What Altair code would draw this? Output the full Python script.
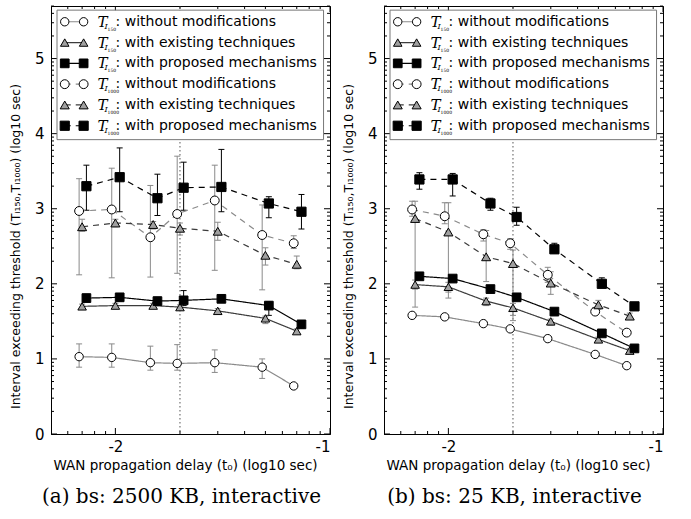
import altair as alt
import numpy as np
import pandas as pd

# ---------------- data (log10 seconds) ----------------
# x positions by marker type (slightly offset per marker in the original)
X_CIRCLE = [-2.169, -2.017, -1.837, -1.712, -1.537, -1.316, -1.169]
X_TRIANGLE = [-2.155, -2.000, -1.824, -1.699, -1.523, -1.301, -1.155]
X_SQUARE = [-2.135, -1.980, -1.804, -1.682, -1.506, -1.285, -1.133]
DOTTED_X = -1.699

# panel (a) bs: 2500 KB
A_C150 = [1.03, 1.02, 0.95, 0.94, 0.95, 0.89, 0.64]
A_C150_LO = [0.89, 0.89, 0.85, 0.85, 0.82, 0.74, 0.64]
A_C150_HI = [1.20, 1.20, 1.17, 1.19, 1.12, 1.00, 0.64]
A_T150 = [1.70, 1.71, 1.71, 1.69, 1.64, 1.54, 1.37]
A_T150_LO = [1.67, 1.68, 1.68, 1.66, 1.61, 1.47, 1.34]
A_T150_HI = [1.73, 1.74, 1.74, 1.72, 1.67, 1.57, 1.40]
A_S150 = [1.81, 1.82, 1.77, 1.78, 1.80, 1.71, 1.46]
A_S150_LO = [1.77, 1.77, 1.73, 1.71, 1.76, 1.58, 1.41]
A_S150_HI = [1.86, 1.87, 1.82, 1.91, 1.85, 1.76, 1.50]
A_C1000 = [2.97, 2.99, 2.62, 2.93, 3.11, 2.65, 2.54]
A_C1000_LO = [2.12, 2.08, 2.09, 2.14, 2.18, 1.92, 2.47]
A_C1000_HI = [3.40, 3.54, 3.31, 3.70, 3.58, 3.05, 2.64]
A_T1000 = [2.76, 2.81, 2.79, 2.74, 2.70, 2.38, 2.26]
A_T1000_LO = [2.70, 2.76, 2.73, 2.65, 2.58, 2.25, 2.20]
A_T1000_HI = [2.86, 2.86, 2.83, 2.81, 2.82, 2.48, 2.37]
A_S1000 = [3.30, 3.42, 3.14, 3.28, 3.29, 3.07, 2.96]
A_S1000_LO = [2.98, 2.96, 2.91, 2.98, 2.96, 2.88, 2.73]
A_S1000_HI = [3.58, 3.81, 3.46, 3.62, 3.79, 3.16, 3.19]

# panel (b) bs: 25 KB
B_C150 = [1.58, 1.56, 1.47, 1.40, 1.27, 1.06, 0.91]
B_C150_LO = B_C150
B_C150_HI = B_C150
B_T150 = [1.99, 1.96, 1.77, 1.68, 1.50, 1.26, 1.11]
B_T150_LO = [1.93, 1.89, 1.71, 1.58, 1.45, 1.23, 1.08]
B_T150_HI = [2.05, 2.02, 1.81, 1.74, 1.53, 1.29, 1.14]
B_S150 = [2.10, 2.07, 1.93, 1.82, 1.63, 1.34, 1.14]
B_S150_LO = [2.07, 2.04, 1.90, 1.79, 1.60, 1.31, 1.11]
B_S150_HI = [2.13, 2.10, 1.96, 1.85, 1.66, 1.37, 1.17]
B_C1000 = [2.99, 2.90, 2.66, 2.54, 2.12, 1.63, 1.35]
B_C1000_LO = [2.90, 2.80, 2.57, 2.46, 2.02, 1.60, 1.33]
B_C1000_HI = [3.10, 3.08, 2.72, 2.60, 2.22, 1.68, 1.38]
B_T1000 = [2.87, 2.69, 2.36, 2.27, 2.01, 1.72, 1.57]
B_T1000_LO = [1.69, 1.81, 2.03, 1.51, 1.86, 1.66, 1.53]
B_T1000_HI = [3.10, 3.08, 2.71, 2.45, 2.16, 1.78, 1.61]
B_S1000 = [3.39, 3.39, 3.07, 2.89, 2.46, 2.00, 1.70]
B_S1000_LO = [3.26, 3.17, 2.98, 2.78, 2.41, 1.95, 1.66]
B_S1000_HI = [3.48, 3.47, 3.14, 3.02, 2.54, 2.08, 1.74]

SERIES = ["c150", "t150", "s150", "c1000", "t1000", "s1000"]
SUBS = ["150", "150", "150", "1000", "1000", "1000"]
LABELS = [": without modifications", ": with existing techniques",
          ": with proposed mechanisms"] * 2
LINE_COLORS = ["#8a8a8a", "#3c3c3c", "#000000", "#8a8a8a", "#3c3c3c", "#000000"]
DASHES = [[1, 0], [1, 0], [1, 0], [6, 5], [6, 5], [6, 5]]
WIDTHS = [1.2, 1.2, 1.6, 1.4, 1.4, 1.7]
SHAPES = ["circle", "triangle-up", "square"] * 2
FILLS = ["#ffffff", "#a0a0a0", "#000000"] * 2
SIZES = [70, 85, 70] * 2
ERR_COLORS = ["#8a8a8a", "#8a8a8a", "#000000"] * 2

CAPTIONS = ["(a) bs: 2500 KB, interactive", "(b) bs: 25 KB, interactive"]
Y_TITLE = "Interval exceeding threshold (Tᵢ₁₅₀,Tᵢ₁₀₀₀) (log10 sec)"
X_TITLE = "WAN propagation delay (t₀) (log10 sec)"

X_BY_SERIES = [X_CIRCLE, X_TRIANGLE, X_SQUARE] * 2


def make_df(vals):
    rows = []
    for s, xs, (y, lo, hi) in zip(SERIES, X_BY_SERIES, vals):
        for xi, yi, l, h in zip(xs, y, lo, hi):
            rows.append(dict(series=s, x=xi, y=yi, lo=l, hi=h))
    return pd.DataFrame(rows)


DF_A = make_df([(A_C150, A_C150_LO, A_C150_HI), (A_T150, A_T150_LO, A_T150_HI),
                (A_S150, A_S150_LO, A_S150_HI), (A_C1000, A_C1000_LO, A_C1000_HI),
                (A_T1000, A_T1000_LO, A_T1000_HI), (A_S1000, A_S1000_LO, A_S1000_HI)])
DF_B = make_df([(B_C150, B_C150_LO, B_C150_HI), (B_T150, B_T150_LO, B_T150_HI),
                (B_S150, B_S150_LO, B_S150_HI), (B_C1000, B_C1000_LO, B_C1000_HI),
                (B_T1000, B_T1000_LO, B_T1000_HI), (B_S1000, B_S1000_LO, B_S1000_HI)])

XMIN, XMAX = -2.3, -1.0
YMIN, YMAX = 0.0, 5.7
W, H = 279, 428

X_MAJOR = [-2, -1]
Y_MAJOR = [0, 1, 2, 3, 4, 5]
X_MINOR = [v for d in (-3, -2) for v in (d + np.log10(np.arange(2, 10)))
           if XMIN <= v <= XMAX]
Y_MINOR = [v for d in range(0, 6) for v in (d + np.log10(np.arange(2, 10)))
           if YMIN <= v <= YMAX]

sc = lambda rng: alt.Scale(domain=SERIES, range=rng)
COLOR = alt.Color("series:N", scale=sc(LINE_COLORS), legend=None)
DASH = alt.StrokeDash("series:N", scale=sc(DASHES), legend=None)
SW = alt.StrokeWidth("series:N", scale=sc(WIDTHS), legend=None)
SHAPE = alt.Shape("series:N", scale=sc(SHAPES), legend=None)
FILL = alt.Fill("series:N", scale=sc(FILLS), legend=None)
SIZE = alt.Size("series:N", scale=sc(SIZES), legend=None)
ESTROKE = alt.Stroke("series:N", scale=sc(ERR_COLORS), legend=None)

XS = alt.Scale(domain=[XMIN, XMAX], nice=False, zero=False)
YS = alt.Scale(domain=[YMIN, YMAX], nice=False, zero=False)
XAX = alt.Axis(values=X_MAJOR, labelExpr="toString(datum.value)", title=X_TITLE,
               tickSize=0, labelPadding=5, titlePadding=4, grid=False,
               titleX=134, titleFontSize=13.5)
YAX = alt.Axis(values=Y_MAJOR, format="d", title=Y_TITLE, tickSize=0,
               labelPadding=7, titlePadding=12, grid=False, titleY=240)


def X(f):
    return alt.X(f, type="quantitative", scale=XS, axis=XAX)


def Y(f):
    return alt.Y(f, type="quantitative", scale=YS, axis=YAX)


# legend layout (in data coordinates)
LEG_Y = [5.49 - i * 0.277 for i in range(6)]
LEG_X1, LEG_X2, LEG_TX = -2.236, -2.148, -2.083
DF_LEG = pd.DataFrame(dict(series=SERIES, y=LEG_Y, sub=SUBS, label=LABELS,
                           x1=LEG_X1, x2=LEG_X2, tx=LEG_TX))
DF_LEG_PTS = pd.concat([DF_LEG.assign(x=LEG_X1), DF_LEG.assign(x=LEG_X2)])


def panel(df, caption):
    base = alt.Chart(df)
    err = df[(df.hi - df.lo) > 0.001]
    caps = pd.concat([err.assign(c=err.lo), err.assign(c=err.hi)])
    layers = []
    layers.append(alt.Chart(pd.DataFrame({"x": [DOTTED_X]})).mark_rule(
        color="#555555", strokeWidth=1, strokeDash=[1.5, 2.5]).encode(x=X("x")))
    layers.append(alt.Chart(err).mark_rule(strokeWidth=1).encode(
        x=X("x"), y=Y("lo"), y2="hi", stroke=ESTROKE))
    layers.append(alt.Chart(caps).mark_point(shape="stroke", size=36, strokeWidth=1,
                                             filled=False, opacity=1).encode(
        x=X("x"), y=Y("c"), stroke=ESTROKE))
    layers.append(base.mark_line().encode(
        x=X("x"), y=Y("y"), detail="series:N", color=COLOR, strokeDash=DASH,
        strokeWidth=SW))
    layers.append(base.mark_point(filled=True, stroke="#000000", strokeWidth=1,
                                  opacity=1, fillOpacity=1).encode(
        x=X("x"), y=Y("y"), shape=SHAPE, fill=FILL, size=SIZE))
    # ticks inside on all four sides
    for vals, ln in ((Y_MAJOR, 6), (Y_MINOR, 3)):
        d = pd.DataFrame({"v": vals})
        layers.append(alt.Chart(d).mark_rule(color="#000000", strokeWidth=1).encode(
            y=Y("v"), x=alt.value(0), x2=alt.value(ln)))
        layers.append(alt.Chart(d).mark_rule(color="#000000", strokeWidth=1).encode(
            y=Y("v"), x=alt.value(W), x2=alt.value(W - ln)))
    for vals, ln in ((X_MAJOR, 6), (X_MINOR, 3)):
        d = pd.DataFrame({"v": vals})
        layers.append(alt.Chart(d).mark_rule(color="#000000", strokeWidth=1).encode(
            x=X("v"), y=alt.value(H), y2=alt.value(H - ln)))
        layers.append(alt.Chart(d).mark_rule(color="#000000", strokeWidth=1).encode(
            x=X("v"), y=alt.value(0), y2=alt.value(ln)))
    # legend
    frame = pd.DataFrame({"x": [-2.272], "x2": [-1.03], "y": [5.645], "y2": [3.92]})
    layers.append(alt.Chart(frame).mark_rect(fill="#ffffff", stroke="#777777",
                                             strokeWidth=1).encode(
        x=X("x"), x2="x2", y=Y("y"), y2="y2"))
    leg = alt.Chart(DF_LEG)
    layers.append(leg.mark_rule().encode(
        x=X("x1"), x2="x2", y=Y("y"), color=COLOR, strokeDash=DASH, strokeWidth=SW))
    layers.append(alt.Chart(DF_LEG_PTS).mark_point(
        filled=True, stroke="#000000", strokeWidth=1, opacity=1, fillOpacity=1).encode(
        x=X("x"), y=Y("y"), shape=SHAPE, fill=FILL, size=SIZE))
    layers.append(leg.mark_text(font="DejaVu Serif", fontStyle="italic", fontSize=15,
                                align="left", baseline="middle", color="#000000").encode(
        x=X("tx"), y=Y("y"), text=alt.value("T")))
    layers.append(leg.mark_text(font="DejaVu Serif", fontStyle="italic", fontSize=8,
                                align="left", baseline="middle", dx=7, dy=5,
                                color="#000000").encode(
        x=X("tx"), y=Y("y"), text=alt.value("I")))
    layers.append(leg.mark_text(font="DejaVu Serif", fontSize=4.5, align="left",
                                baseline="middle", dx=10, dy=8, color="#000000").encode(
        x=X("tx"), y=Y("y"), text="sub:N"))
    layers.append(leg.mark_text(font="DejaVu Sans", fontSize=14, align="left",
                                baseline="middle", dx=18, color="#000000").encode(
        x=X("tx"), y=Y("y"), text="label:N"))
    return alt.layer(*layers).properties(
        width=W, height=H,
        title=alt.TitleParams(caption, orient="bottom", anchor="middle",
                              font="DejaVu Serif", fontSize=20, fontWeight="normal",
                              color="#000000", offset=15, dx=-9))


chart = alt.hconcat(panel(DF_A, CAPTIONS[0]), panel(DF_B, CAPTIONS[1]), spacing=10).properties(
    padding={"left": 8, "top": 5, "right": 5, "bottom": 2}
).configure_view(stroke="#000000", strokeWidth=1).configure_axis(
    domainColor="#000000", domainWidth=1, labelFont="DejaVu Sans", labelFontSize=15,
    labelColor="#000000", titleFont="DejaVu Sans", titleFontSize=12.5,
    titleFontWeight="normal", titleColor="#000000", grid=False
)

chart.save("out.html", embed_options={"renderer": "svg", "actions": False})
